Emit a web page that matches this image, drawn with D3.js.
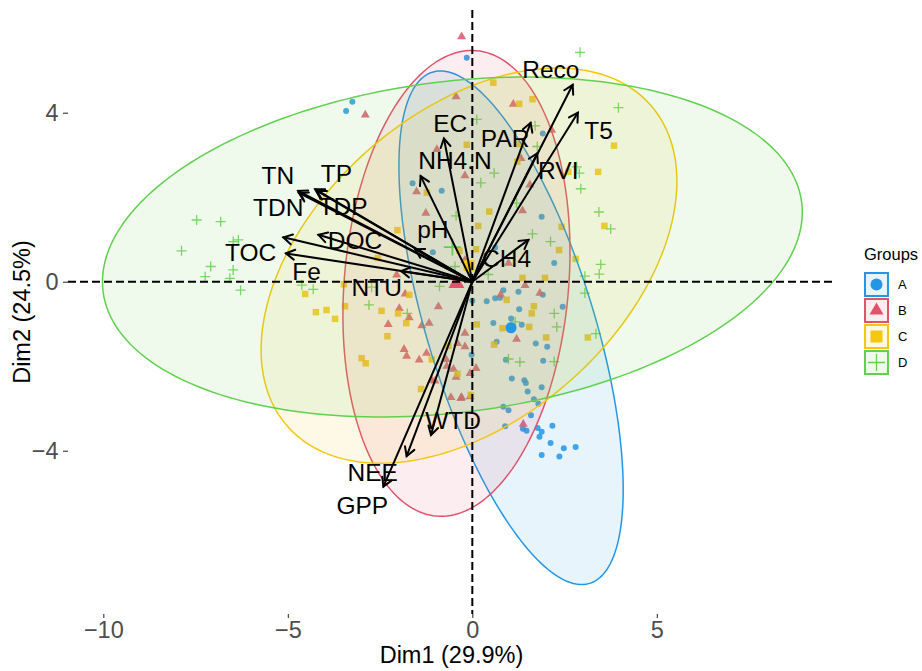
<!DOCTYPE html>
<html><head><meta charset="utf-8">
<script src="https://cdn.jsdelivr.net/npm/d3@7"></script>
<style>body{margin:0;background:#fff}svg{display:block}</style>
</head><body>
<svg id="chart" width="922" height="671"></svg>
<script>
// ---------------- data ----------------
const groups = ["A", "B", "C", "D"];
const groupColors = ["#2297E6", "#DF536B", "#F5C710", "#61D04F"];
const xTicks = [-10, -5, 0, 5];
const yTicks = [-4, 0, 4];
const xTitle = "Dim1 (29.9%)";
const yTitle = "Dim2 (24.5%)";
const legendTitle = "Groups";

const pointsA = [[-0.15,5.30],[-3.25,4.26],[-3.42,4.04],[1.91,3.51],[1.88,1.54],[2.22,0.44],[0.84,-0.20],[1.25,-0.24],[1.91,-0.31],[0.00,-0.45],[0.39,-0.46],[0.62,-0.39],[0.75,-0.38],[2.45,-0.59],[1.27,-0.65],[1.05,-0.87],[0.57,-0.98],[1.34,-1.02],[0.66,-1.42],[1.72,-1.46],[2.03,-1.54],[-0.02,-1.73],[0.91,-1.85],[1.92,-1.87],[1.07,-2.29],[1.41,-2.33],[1.45,-2.40],[1.88,-2.50],[1.50,-2.60],[1.67,-2.78],[0.84,-2.96],[0.98,-3.04],[1.79,-2.89],[1.59,-3.16],[0.89,-3.42],[1.37,-3.48],[1.47,-3.53],[1.77,-3.46],[1.88,-3.55],[1.82,-3.67],[2.17,-3.41],[2.12,-3.82],[2.48,-3.94],[2.80,-3.91],[1.88,-4.10],[2.36,-4.14],[-1.62,2.33],[-0.83,2.15],[-1.07,0.70],[0.62,0.81]];
const pointsB = [[-0.29,5.80],[-2.90,3.95],[-0.44,4.38],[-0.96,3.13],[1.11,4.20],[2.15,3.59],[1.32,2.92],[-0.20,2.51],[1.56,2.29],[1.36,1.68],[0.98,0.44],[1.43,-0.09],[1.83,-0.27],[0.77,-0.31],[-0.20,-1.22],[-0.20,-1.54],[1.20,-1.36],[0.10,-2.05],[-0.06,-2.17],[-0.29,-2.74],[1.38,-3.37],[-1.51,2.13],[-1.26,1.62],[-2.05,0.16],[-1.82,-0.29],[-1.98,-0.63],[-0.92,-0.59],[-1.71,-0.85],[-2.28,-1.01],[-1.37,-1.04],[-1.17,-0.98],[-0.40,-1.46],[-1.85,-1.60],[-1.78,-1.76],[-1.24,-1.69],[-1.44,-1.85],[-0.71,-1.84],[-0.69,-2.00],[-0.51,-2.07],[-0.44,-2.26],[-1.10,-2.33],[-1.01,-2.35],[-0.58,-2.74],[-0.06,-2.72],[-0.31,-2.76],[-0.20,0.51]];
const pointsC = [[-0.15,3.24],[0.57,4.71],[1.63,4.32],[1.27,4.21],[1.27,3.26],[3.84,3.22],[1.22,2.84],[2.60,2.60],[3.41,2.60],[0.46,1.66],[3.58,1.32],[0.16,1.32],[2.42,1.30],[2.35,0.75],[0.10,0.77],[2.80,0.54],[1.36,0.09],[1.97,0.09],[0.93,-0.43],[1.67,-0.58],[1.61,-0.75],[1.54,-1.07],[0.12,-1.01],[2.00,-1.32],[3.13,-1.32],[0.59,-1.49],[-0.04,-2.68],[-4.53,-0.29],[-3.45,-0.58],[-4.24,-0.72],[-3.95,-0.67],[-3.72,-0.88],[-3.48,-0.06],[-2.46,-0.69],[-2.01,-0.75],[-1.79,-0.98],[-1.71,-0.31],[-2.30,-1.29],[-3.00,-1.81],[-2.89,-1.93],[-1.10,-1.84],[-0.65,-1.52],[-0.40,-2.18],[-1.39,-2.54],[-2.03,1.22],[-2.56,0.56],[-1.23,2.11],[-0.35,0.73],[0.82,-1.10]];
const pointsD = [[2.92,5.43],[3.96,4.12],[0.12,3.84],[1.70,3.69],[1.76,3.20],[0.59,2.57],[0.23,2.34],[2.83,2.72],[2.90,2.57],[2.94,2.20],[1.20,1.86],[3.43,1.65],[3.75,1.25],[1.63,1.13],[2.12,0.95],[3.48,0.41],[3.44,0.18],[3.05,0.13],[3.05,-0.27],[0.43,0.17],[2.22,-0.75],[2.29,-1.07],[3.35,-1.23],[1.16,-0.95],[0.98,-1.83],[1.29,-1.90],[2.22,-1.89],[-0.44,1.56],[-0.47,0.36],[-0.89,-0.11],[-4.62,-0.08],[-4.31,-0.18],[-2.80,-0.55],[-1.76,-0.75],[-2.73,-0.13],[-7.47,1.46],[-6.82,1.42],[-7.88,0.73],[-6.48,0.95],[-6.34,0.99],[-7.09,0.36],[-6.48,0.28],[-7.24,0.12],[-6.57,0.08],[-6.28,-0.20]];

// group means (centres of the confidence ellipses)
const meanX = [1.05, -0.43, -0.09, -0.54];
const meanY = [-1.09, -0.04, 0.38, 0.82];
// ellipse semi-axis vectors (data units)
const ellUX = [-2.130, 0.541, 4.913, 9.466];
const ellUY = [6.050, 5.508, 3.809, 1.059];
const ellVX = [-2.168, -3.029, -2.758, -0.569];
const ellVY = [-0.582, 0.227, 2.713, 3.881];

// variable loadings (arrow tips) and their repelled label positions
const varNames = ["Reco","T5","PAR","RVI","CH4","EC","NH4.N","pH","TN","TP","TDN","TDP","TOC","DOC","Fe","NTU","WTD","NEE","GPP"];
const varX = [2.72,2.86,1.58,1.76,1.52,-0.77,-1.40,-1.55,-4.72,-4.26,-4.70,-4.21,-5.12,-4.17,-5.05,-1.93,-1.12,-1.78,-2.41];
const varY = [4.66,4.00,3.76,3.04,0.99,3.39,2.50,0.77,2.15,2.19,2.10,2.15,1.05,1.11,0.67,0.25,-3.63,-4.13,-4.85];
const labelX = [2.13,3.42,0.89,2.33,0.93,-0.60,-0.47,-1.07,-5.27,-3.68,-5.26,-3.50,-6.01,-3.18,-4.49,-2.59,-0.52,-2.70,-2.98];
const labelY = [5.03,3.59,3.39,2.64,0.55,3.76,2.88,1.24,2.53,2.57,1.76,1.78,0.70,0.99,0.26,-0.13,-3.27,-4.50,-5.29];

// ---------------- drawing ----------------
const svg = d3.select("#chart");
svg.append("rect").attr("width", 922).attr("height", 671).attr("fill", "#fff");
const FONT = "'Liberation Sans', Arial, Helvetica, sans-serif";

const x = d3.scaleLinear().domain([-10.957, 9.829]).range([68, 835]);
const y = d3.scaleLinear().domain([6.431, -7.865]).range([10, 614]);

const allPoints = [pointsA, pointsB, pointsC, pointsD];

function markerPath(g, size) {
  if (g === 0) return d3.symbol(d3.symbolCircle, Math.PI * size * size / 4)();
  if (g === 1) return d3.symbol(d3.symbolTriangle, Math.sqrt(3) / 4 * size * size)();
  if (g === 2) return d3.symbol(d3.symbolSquare, size * size)();
  const h = size / 2;
  return `M${-h},0H${h}M0,${-h}V${h}`;
}
function drawMarker(sel, g, size, sw) {
  sel.append("path").attr("d", markerPath(g, size))
    .attr("fill", g === 3 ? "none" : groupColors[g])
    .attr("stroke", g === 3 ? groupColors[g] : "none")
    .attr("stroke-width", g === 3 ? sw : 0);
}

// individuals
const ptLayer = svg.append("g");
const ptSizes = [6, 9, 6.5, 10];
allPoints.forEach((pts, g) => {
  pts.forEach(p => {
    const m = ptLayer.append("g")
      .attr("transform", `translate(${x(p[0])},${y(p[1])})`)
      .attr("opacity", 0.85);
    drawMarker(m, g, ptSizes[g], 1.3);
  });
});

// ellipses
const ellLayer = svg.append("g");
const line = d3.line().curve(d3.curveLinearClosed);
groups.forEach((grp, g) => {
  const pts = d3.range(0, 200).map(i => {
    const t = i / 200 * 2 * Math.PI;
    return [x(meanX[g] + ellUX[g] * Math.cos(t) + ellVX[g] * Math.sin(t)),
            y(meanY[g] + ellUY[g] * Math.cos(t) + ellVY[g] * Math.sin(t))];
  });
  ellLayer.append("path").attr("d", line(pts))
    .attr("fill", groupColors[g]).attr("fill-opacity", 0.1)
    .attr("stroke", groupColors[g]).attr("stroke-width", 1.5);
});

// group means
const meanSizes = [11, 16, 11, 17];
groups.forEach((grp, g) => {
  const m = svg.append("g").attr("transform", `translate(${x(meanX[g])},${y(meanY[g])})`);
  drawMarker(m, g, meanSizes[g], 1.8);
});

// reference lines
svg.append("line").attr("x1", x.range()[0]).attr("x2", x.range()[1])
  .attr("y1", y(0)).attr("y2", y(0))
  .attr("stroke", "#000").attr("stroke-width", 2).attr("stroke-dasharray", "8,4");
svg.append("line").attr("x1", x(0)).attr("x2", x(0))
  .attr("y1", y.range()[0]).attr("y2", y.range()[1])
  .attr("stroke", "#000").attr("stroke-width", 2).attr("stroke-dasharray", "8,4");

// arrows
const arrLayer = svg.append("g").attr("stroke", "#000").attr("stroke-width", 2).attr("fill", "none")
  .attr("stroke-linecap", "round");
varNames.forEach((nm, i) => {
  const x0 = x(0), y0 = y(0), x1 = x(varX[i]), y1 = y(varY[i]);
  const a = Math.atan2(y1 - y0, x1 - x0);
  const L = 10, da = Math.PI / 6;
  arrLayer.append("line").attr("x1", x0).attr("y1", y0).attr("x2", x1).attr("y2", y1);
  arrLayer.append("path").attr("d",
    `M${x1 - L * Math.cos(a - da)},${y1 - L * Math.sin(a - da)}L${x1},${y1}L${x1 - L * Math.cos(a + da)},${y1 - L * Math.sin(a + da)}`);
});
const lblLayer = svg.append("g").attr("font-family", FONT).attr("font-size", 24.5)
  .attr("fill", "#000").attr("text-anchor", "middle");
varNames.forEach((nm, i) => {
  lblLayer.append("text").attr("x", x(labelX[i])).attr("y", y(labelY[i]))
    .attr("dy", "0.36em").text(nm);
});

// axes
const xAxis = svg.append("g").attr("transform", `translate(0,${y.range()[1]})`)
  .call(d3.axisBottom(x).tickValues(xTicks).tickSize(4).tickPadding(3));
const yAxis = svg.append("g").attr("transform", `translate(${x.range()[0]},0)`)
  .call(d3.axisLeft(y).tickValues(yTicks).tickSize(5).tickPadding(4.5));
[xAxis, yAxis].forEach(ax => {
  ax.select(".domain").remove();
  ax.selectAll(".tick line").attr("stroke", "#333").attr("stroke-width", 1.1);
  ax.selectAll(".tick text").attr("fill", "#4D4D4D").attr("font-size", 23.5).attr("font-family", FONT);
});

svg.append("text").attr("x", (x.range()[0] + x.range()[1]) / 2).attr("y", 663)
  .attr("text-anchor", "middle").attr("font-family", FONT).attr("font-size", 23.5).text(xTitle);
svg.append("text").attr("transform", `translate(30,${(y.range()[0] + y.range()[1]) / 2}) rotate(-90)`)
  .attr("text-anchor", "middle").attr("font-family", FONT).attr("font-size", 23.5).text(yTitle);

// legend
const leg = svg.append("g").attr("transform", "translate(864,0)");
leg.append("text").attr("x", 0).attr("y", 260).attr("font-family", FONT).attr("font-size", 16.5).text(legendTitle);
groups.forEach((grp, g) => {
  const top = 272 + g * 26;
  leg.append("rect").attr("x", 1).attr("y", top + 1).attr("width", 23).attr("height", 23)
    .attr("fill", groupColors[g]).attr("fill-opacity", 0.1)
    .attr("stroke", groupColors[g]).attr("stroke-width", 2);
  const m = leg.append("g").attr("transform", `translate(12.5,${top + 12.5})`);
  drawMarker(m, g, [12, 14, 12, 17][g], 1.3);
  leg.append("text").attr("x", 34).attr("y", top + 12.5).attr("dy", "0.36em")
    .attr("font-family", FONT).attr("font-size", 13).text(grp);
});
</script>
</body></html>
